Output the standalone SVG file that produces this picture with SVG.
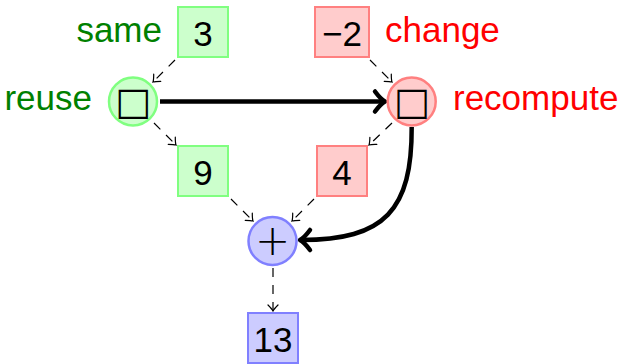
<svg xmlns="http://www.w3.org/2000/svg" width="631" height="364" viewBox="0 0 631 364">
<defs>
<style>
.num{font-family:"Liberation Sans",Arial,sans-serif;font-size:35px;fill:#000;text-anchor:middle}
.lbl{font-family:"Liberation Sans",Arial,sans-serif;font-size:35px}
.g{fill:#008000}
.r{fill:#ff0000}
.gbox{fill:#ccffcc;stroke:#80ff80;stroke-width:2}
.rbox{fill:#ffcccc;stroke:#ff8080;stroke-width:2}
.bbox{fill:#ccccff;stroke:#8080ff;stroke-width:2}
.sym{font-family:"DejaVu Sans",sans-serif;font-size:38px;fill:#000;text-anchor:middle}
.plus{font-family:"DejaVu Sans",sans-serif;font-weight:200;font-size:42px;fill:#000;text-anchor:middle}
.thin{fill:none;stroke:#000;stroke-width:1.2;stroke-dasharray:9 8;marker-end:url(#ah)}
.thick{fill:none;stroke:#000;stroke-width:4.5;marker-end:url(#ahb)}
</style>
<marker id="ah" markerUnits="userSpaceOnUse" viewBox="-10 -8 12 16" refX="0" refY="0" markerWidth="12" markerHeight="16" orient="auto" overflow="visible">
<path d="M-6,-5 Q-2,-1 0,0 Q-2,1 -6,5" fill="none" stroke="#000" stroke-width="1.2" stroke-linecap="round"/>
</marker>
<marker id="ahb" markerUnits="userSpaceOnUse" viewBox="-14 -14 18 28" refX="0" refY="0" markerWidth="18" markerHeight="28" orient="auto" overflow="visible">
<path d="M-9,-10 Q-3,-2 1,0 Q-3,2 -9,10" fill="none" stroke="#000" stroke-width="4.5" stroke-linecap="round" stroke-linejoin="round"/>
</marker>
</defs>
<rect width="631" height="364" fill="#fff"/>
<g id="connectors">
<path class="thin" d="M175,60 L153,82"/>
<path class="thin" d="M154,123 L176,145"/>
<path class="thin" d="M370,60 L392,82"/>
<path class="thin" d="M392,123 L369,145"/>
<path class="thin" d="M231,199 L253,221"/>
<path class="thin" d="M314,199 L292,221"/>
<path class="thin" d="M273,268 L273,311"/>
<path class="thick" d="M160,101.5 L384,101.5"/>
<path class="thick" d="M411.7,127 C412,210 385,240 301,240"/>
</g>
<g id="n-same">
<rect class="gbox" x="178" y="7" width="50" height="50"/>
<text class="num" x="203" y="46">3</text>
<text class="lbl g" x="162" y="42" text-anchor="end">same</text>
</g>
<g id="n-change">
<rect class="rbox" x="315" y="7" width="54" height="50"/>
<text class="num" x="342" y="46">−2</text>
<text class="lbl r" x="385" y="42">change</text>
</g>
<g id="n-reuse">
<circle cx="133" cy="101.5" r="24" fill="#ccffcc" stroke="#80ff80" stroke-width="2.5"/>
<text class="sym" x="133" y="113.5">□</text>
<text class="lbl g" x="92" y="110" text-anchor="end">reuse</text>
</g>
<g id="n-recompute">
<circle cx="411.7" cy="101.5" r="24" fill="#ffcccc" stroke="#ff8080" stroke-width="2.5"/>
<text class="sym" x="411.7" y="113.5">□</text>
<text class="lbl r" x="453" y="110">recompute</text>
</g>
<g id="n-9">
<rect class="gbox" x="178" y="146" width="50" height="50"/>
<text class="num" x="203" y="185">9</text>
</g>
<g id="n-4">
<rect class="rbox" x="317" y="146" width="50" height="50"/>
<text class="num" x="342" y="185">4</text>
</g>
<g id="n-plus">
<circle cx="272.5" cy="241" r="24" fill="#ccccff" stroke="#8080ff" stroke-width="2.5"/>
<text class="plus" x="272.5" y="255">+</text>
</g>
<g id="n-13">
<rect class="bbox" x="248" y="313" width="50" height="50"/>
<text class="num" x="273" y="352">13</text>
</g>
</svg>
